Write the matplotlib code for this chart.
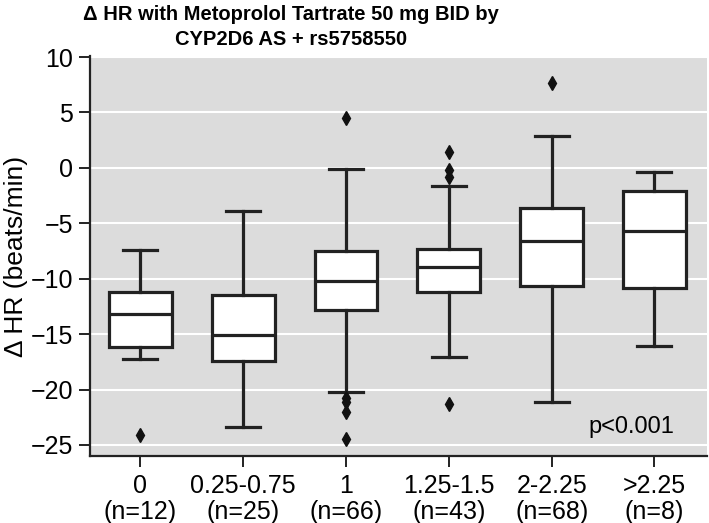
import matplotlib.pyplot as plt
import numpy as np

# Data --------------------------------------------------------------------

groups = ['0', '0.25-0.75', '1', '1.25-1.5', '2-2.25', '>2.25']
n_counts = [12, 25, 66, 43, 68, 8]

whis_hi = [-7.4, -3.9, -0.1, -1.6, 2.9, -0.4]
q3 = [-11.2, -11.5, -7.5, -7.3, -3.6, -2.1]
medians = [-13.2, -15.1, -10.2, -8.9, -6.6, -5.7]
q1 = [-16.2, -17.4, -12.8, -11.2, -10.7, -10.8]
whis_lo = [-17.2, -23.4, -20.2, -17.1, -21.1, -16.1]
outliers = [
    [-24.1],
    [],
    [4.5, -20.8, -21.1, -22.0, -24.5],
    [1.4, -0.2, -0.8, -21.3],
    [7.7],
    [],
]

#--------------------------------------------------------------------------

plt.rcParams['font.family'] = ['Liberation Sans', 'DejaVu Sans']

fig = plt.figure(figsize=(7.09, 5.23), dpi=100)
ax = fig.add_axes([0.127, 0.128, 0.870, 0.765])

stats = []
for i in range(len(groups)):
    stats.append({
        'whishi': whis_hi[i], 'q3': q3[i], 'med': medians[i],
        'q1': q1[i], 'whislo': whis_lo[i], 'fliers': outliers[i],
    })

ax.bxp(stats, positions=range(len(groups)), widths=0.61, patch_artist=True,
       boxprops=dict(facecolor='white', edgecolor='#222222', linewidth=2.3),
       medianprops=dict(color='#222222', linewidth=2.3),
       whiskerprops=dict(color='#222222', linewidth=2.3),
       capprops=dict(color='#222222', linewidth=2.3),
       capwidths=0.33,
       flierprops=dict(marker='d', markerfacecolor='#111111',
                       markeredgecolor='#111111', markersize=7))

ax.set_facecolor('#dcdcdc')
ax.set_ylim(-26, 10.1)
ax.set_xlim(-0.49, 5.51)
ax.set_yticks(np.arange(-25, 11, 5))
ax.yaxis.grid(True, color='white', linewidth=1.5)
ax.set_axisbelow(True)

for s in ['top', 'right']:
    ax.spines[s].set_visible(False)
for s in ['left', 'bottom']:
    ax.spines[s].set_linewidth(1.6)
    ax.spines[s].set_color('#222222')

ax.set_xticks(range(len(groups)))
ax.set_xticklabels([f'{g}\n(n={n})' for g, n in zip(groups, n_counts)],
                   fontsize=18, linespacing=1.08)
ax.tick_params(axis='both', direction='out', length=8, width=1.4,
               color='#222222', labelsize=18, pad=4)
ax.tick_params(axis='x', pad=5)
ax.set_ylabel('Δ HR (beats/min)', fontsize=19)
ax.yaxis.set_label_coords(-0.10, 0.5)

ax.text(0.878, 0.0725, 'p<0.001', transform=ax.transAxes, fontsize=17,
        ha='center', va='center')

fig.text(291 / 709, 1 - 27 / 523, 'Δ HR with Metoprolol Tartrate 50 mg BID by\nCYP2D6 AS + rs5758550',
         ha='center', va='center', fontsize=14.5, fontweight='bold',
         linespacing=1.4)

plt.savefig('out.png', dpi=100)
